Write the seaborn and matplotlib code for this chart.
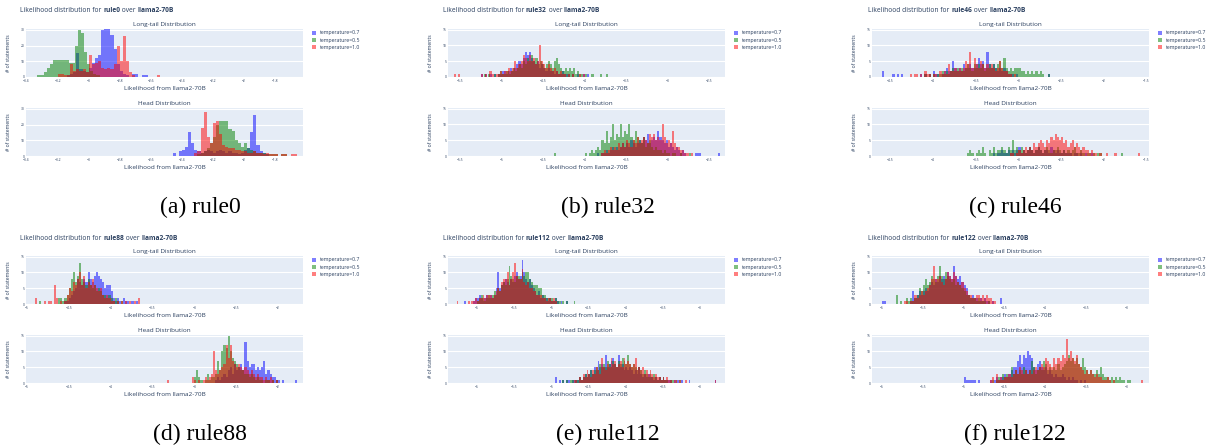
import numpy as np
import pandas as pd
import matplotlib
matplotlib.use("Agg")
import matplotlib.pyplot as plt
from matplotlib import ticker
import seaborn as sns

sns.set_theme(style="white")
plt.rcParams['font.family'] = ['Open Sans', 'DejaVu Sans']

temps = ["temperature=0.7", "temperature=0.5", "temperature=1.0"]
colors = ["blue", "green", "red"]
rules = ["rule0", "rule32", "rule46", "rule88", "rule112", "rule122"]
captions = ["(a) rule0", "(b) rule32", "(c) rule46", "(d) rule88", "(e) rule112", "(f) rule122"]

# ---- rule0 (bin width 0.02), order: t=0.7, t=0.5, t=1.0
r0_w = 0.02
r0_tail_start = [-3.14, -3.33, -3.20]
r0_tail_b = [1, 2, 3, 15, 5, 4, 3, 6, 9, 12, 14, 30, 32, 33, 27, 18, 8, 4, 2, 1, 0, 2, 2, 0, 1, 1]
r0_tail_g = [1, 1, 3, 6, 8, 11, 11, 11, 11, 11, 9, 9, 20, 30, 28, 16, 8, 4, 2, 1]
r0_tail_r = [2, 2, 1, 1, 8, 4, 5, 4, 5, 3, 14, 8, 9, 10, 6, 5, 6, 5, 8, 20, 10, 26, 10, 3, 1,
             0, 0, 0, 0, 0, 0, 0, 1]
r0_head_start = [-2.46, -2.30, -2.32]
r0_head_b = [2, 0, 3, 4, 6, 15, 8, 4, 3, 2, 3, 4, 3, 2, 3, 4, 3, 2, 3, 2, 2, 1, 2, 4, 5, 15, 26, 7, 3, 2, 1]
r0_head_g = [1, 2, 3, 5, 8, 12, 20, 22, 22, 22, 17, 16, 10, 8, 6, 8, 5, 4, 3, 2, 2, 2, 1, 1, 1, 1, 0, 1, 1]
r0_head_r = [2, 3, 18, 28, 12, 8, 21, 22, 14, 7, 6, 5, 5, 4, 4, 3, 3, 2, 2, 3, 2, 2, 1, 2, 1, 1, 1, 0, 1, 1, 0, 1, 1]

# ---- rule32 (bin width 0.025)
r32_w = 0.025
r32_tail_start = [-5.25, -5.22, -5.575]
r32_tail_b = [1, 0, 1, 0, 1, 0, 1, 0, 1, 1, 2, 2, 1, 2, 3, 2, 3, 4, 5, 4, 6, 8, 7, 8, 6, 5, 4, 5, 3, 4,
              3, 2, 3, 2, 2, 1, 2, 1, 1, 2, 1, 1, 1, 0, 1, 0, 1, 0, 0, 1, 0, 1]
r32_tail_g = [1, 0, 1, 0, 0, 1, 0, 1, 2, 1, 1, 2, 1, 2, 3, 2, 3, 4, 3, 5, 4, 6, 5, 7, 5, 6, 4, 5, 4, 3,
              4, 5, 4, 3, 5, 6, 4, 3, 2, 3, 2, 3, 2, 3, 1, 2, 1, 1, 0, 1, 0, 0, 1, 0, 0, 0, 1, 0, 0, 1]
r32_tail_r = [1, 0, 1, 0, 0, 0, 0, 0, 0, 0, 0, 0, 0, 1, 0, 1, 0, 2, 1, 0, 1, 1, 2, 1, 2, 2, 3, 2, 3, 5,
              3, 4, 5, 7, 6, 5, 7, 5, 6, 4, 5, 10, 5, 4, 3, 4, 3, 2, 3, 2, 1, 2, 1, 1, 0, 1, 0, 1, 0, 0,
              1, 0, 1]
r32_head_start = [-3.85, -4.375, -3.80]
r32_head_b = [1, 0, 1, 1, 2, 1, 2, 3, 2, 3, 2, 3, 4, 3, 4, 3, 5, 4, 3, 4, 5, 4, 6, 5, 7, 4, 5, 6, 5, 8,
              6, 5, 4, 5, 3, 4, 3, 2, 3, 2, 1, 2, 1, 0, 0, 0, 0, 1, 1, 1, 0, 0, 0, 0, 0, 0, 0, 0, 1]
r32_head_g = [1, 0, 0, 0, 0, 0, 0, 0, 0, 0, 0, 0, 0, 0, 0, 1, 0, 1, 2, 1, 2, 3, 2, 5, 4, 8, 4, 6, 10, 5,
              7, 6, 10, 6, 8, 7, 10, 6, 5, 8, 6, 5, 4, 6, 3, 4, 5, 3, 2, 3, 2, 2, 1, 2, 1, 1, 0, 1, 1, 0,
              0, 1, 0, 0, 0, 1]
r32_head_r = [1, 2, 1, 2, 3, 2, 3, 2, 4, 3, 4, 3, 5, 4, 3, 5, 4, 6, 4, 5, 6, 5, 4, 7, 6, 7, 5, 6, 5, 10,
              6, 4, 5, 4, 8, 4, 3, 3, 2, 2, 1, 1, 0, 1]

# ---- rule46
r46_w = 0.025
r46_tail_start = [-4.60, -4.10, -4.275]
r46_tail_b = [2, 0, 0, 0, 0, 1, 0, 1, 0, 1, 0, 0, 0, 0, 0, 0, 0, 0, 1, 0, 1, 0, 1, 0, 2, 1, 1, 0, 1, 2,
              3, 2, 2, 5, 3, 2, 3, 2, 4, 3, 3, 4, 3, 3, 4, 6, 4, 5, 3, 8, 4, 3, 4, 3, 2, 3, 2, 3, 2, 1,
              1, 1, 0, 1, 0, 0, 0, 0, 0, 0, 0, 0, 0, 0, 0, 0, 0, 0, 1]
r46_tail_g = [1, 0, 1, 0, 1, 0, 1, 1, 2, 1, 2, 1, 2, 3, 2, 3, 2, 3, 2, 3, 4, 3, 2, 4, 3, 4, 3, 4, 2, 3,
              4, 3, 4, 3, 4, 5, 3, 6, 3, 2, 3, 2, 3, 3, 3, 2, 2, 1, 2, 1, 2, 1, 2, 1, 2, 1, 0, 0, 1]
r46_tail_r = [1, 0, 1, 1, 0, 1, 0, 2, 1, 1, 0, 1, 1, 0, 2, 1, 2, 1, 4, 2, 2, 3, 2, 3, 2, 3, 5, 4, 8, 3,
              6, 4, 3, 5, 4, 3, 4, 3, 4, 3, 2, 3, 5, 3, 2, 2, 1, 1, 0, 1]
r46_head_start = [-3.30, -3.60, -3.10]
r46_head_b = [1, 0, 1, 1, 2, 1, 1, 2, 1, 2, 1, 2, 3, 1, 2, 1, 2, 3, 2, 1, 2, 3, 2, 1, 2, 2, 1, 3, 2, 1,
              2, 1, 1, 2, 1, 1, 1, 0, 1, 1, 0, 1, 0, 1, 0, 0, 1]
r46_head_g = [1, 2, 1, 0, 1, 2, 1, 3, 1, 0, 2, 1, 3, 1, 2, 2, 3, 2, 1, 3, 2, 5, 2, 3, 2, 3, 2, 1, 2, 3,
              2, 1, 2, 3, 2, 1, 2, 3, 2, 1, 2, 2, 3, 2, 1, 2, 1, 2, 1, 2, 3, 1, 1, 2, 1, 0, 1, 1, 0, 1,
              0, 1, 1, 0, 0, 0, 0, 0, 0, 0, 0, 0, 1]
r46_head_r = [1, 1, 0, 1, 2, 1, 2, 3, 2, 3, 2, 4, 3, 4, 5, 4, 3, 5, 4, 6, 5, 7, 6, 5, 6, 4, 5, 3, 4, 5,
              3, 4, 3, 2, 3, 2, 2, 1, 2, 1, 1, 0, 1, 0, 0, 1, 0, 0, 0, 1, 0, 0, 0, 0, 0, 0, 0, 0, 0, 0,
              1]

# ---- rule88
r88_w = 0.025
r88_tail_start = [-4.55, -4.85, -4.90]
r88_tail_b = [1, 1, 2, 3, 4, 5, 8, 7, 6, 8, 7, 10, 8, 7, 9, 10, 9, 8, 7, 5, 6, 6, 4, 2, 1, 2, 1, 0, 2, 1,
              1, 0, 1, 0, 1]
r88_tail_g = [1, 0, 0, 0, 0, 0, 0, 0, 0, 2, 2, 1, 2, 3, 5, 8, 10, 7, 9, 13, 8, 7, 6, 8, 6, 5, 6, 4, 5, 4,
              3, 3, 2, 3, 2, 1, 2, 1, 0, 1]
r88_tail_r = [2, 0, 0, 0, 1, 0, 1, 1, 0, 6, 2, 0, 1, 0, 1, 3, 5, 4, 7, 6, 8, 10, 6, 9, 5, 7, 6, 8, 6, 5,
              4, 5, 3, 2, 3, 2, 1, 1, 0, 1, 0, 1, 0, 1, 0, 1, 0, 1, 0, 2]
r88_head_start = [-2.75, -3.00, -3.325]
r88_head_b = [1, 2, 1, 2, 3, 2, 4, 5, 3, 6, 4, 5, 6, 4, 13, 7, 5, 6, 6, 4, 5, 4, 5, 7, 3, 4, 3, 2, 2, 1,
              1, 0, 1, 0, 0, 0, 0, 0, 1]
r88_head_g = [2, 4, 2, 1, 0, 1, 3, 1, 2, 2, 3, 7, 4, 10, 12, 11, 15, 10, 8, 7, 6, 5, 4, 4, 3, 3, 2, 3, 2, 1,
              2, 1, 1, 0, 1, 1, 0, 1, 0, 1]
r88_head_r = [1, 0, 0, 0, 0, 0, 0, 0, 0, 0, 0, 0, 2, 1, 0, 1, 0, 1, 2, 1, 2, 3, 10, 4, 3, 4, 5, 6, 12, 8,
              12, 7, 6, 5, 6, 5, 4, 5, 4, 3, 4, 3, 2, 3, 2, 2, 1, 2, 1, 2, 1, 0, 1]

# ---- rule112
r112_w = 0.025
r112_tail_start = [-6.175, -6.00, -6.275]
r112_tail_b = [1, 0, 0, 0, 0, 1, 2, 2, 3, 2, 1, 2, 3, 2, 3, 2, 3, 5, 10, 5, 6, 7, 8, 7, 6, 8, 7, 9, 10, 8,
               9, 14, 10, 8, 7, 8, 6, 5, 4, 3, 4, 2, 3, 2, 2, 1, 2, 1, 1, 2, 1, 0, 1, 0, 0, 1]
r112_tail_g = [1, 2, 3, 2, 1, 2, 3, 2, 3, 4, 3, 5, 4, 6, 7, 6, 8, 12, 9, 8, 7, 9, 9, 8, 10, 9, 10, 10, 8, 7,
               6, 6, 6, 5, 5, 3, 3, 2, 2, 2, 2, 1, 2, 1, 1, 0, 1, 0, 1, 0, 0, 0, 1]
r112_tail_r = [1, 0, 0, 0, 0, 0, 1, 0, 1, 1, 2, 1, 2, 2, 3, 2, 3, 3, 3, 2, 3, 4, 5, 4, 7, 8, 8, 10, 6, 8,
               10, 13, 9, 8, 8, 11, 7, 6, 7, 5, 5, 4, 4, 3, 3, 3, 2, 2, 1, 2, 2, 1, 2, 1]
r112_head_start = [-4.95, -4.85, -4.70]
r112_head_b = [2, 0, 1, 0, 1, 0, 1, 1, 0, 1, 1, 1, 1, 2, 1, 2, 3, 2, 3, 4, 3, 5, 4, 7, 5, 6, 5, 9, 5, 6,
               7, 8, 6, 5, 9, 5, 6, 4, 5, 4, 5, 4, 3, 4, 3, 5, 3, 2, 3, 2, 3, 2, 2, 1, 2, 1, 2, 1, 2, 1,
               1, 1, 1, 0, 1, 0, 1, 0, 1, 0, 0, 0, 1, 0, 0, 0, 0, 0, 0, 0, 0, 0, 0, 0, 0, 0, 1]
r112_head_g = [1, 0, 1, 0, 1, 1, 0, 1, 1, 2, 1, 2, 3, 2, 3, 4, 3, 4, 5, 4, 6, 5, 6, 5, 7, 6, 5, 7, 6, 5,
               7, 6, 8, 7, 6, 9, 6, 5, 6, 5, 4, 5, 4, 3, 4, 3, 2, 3, 2, 3, 2, 1, 2, 1, 2, 1, 1, 0, 1, 1,
               0, 1, 0, 1]
r112_head_r = [1, 1, 0, 2, 1, 3, 2, 4, 3, 2, 4, 3, 5, 4, 3, 8, 5, 4, 6, 5, 8, 6, 7, 5, 6, 7, 5, 8, 6, 7,
               6, 5, 6, 8, 4, 5, 4, 5, 3, 4, 3, 4, 3, 2, 3, 2, 2, 1, 2, 1, 2, 1, 1, 0, 1, 1, 0, 1, 0, 0,
               1, 0, 0, 0, 0, 0, 0, 0, 0, 0, 0, 0, 0, 0, 0, 0, 1]

# ---- rule122
r122_w = 0.025
r122_tail_start = [-6.00, -5.825, -5.725]
r122_tail_b = [1, 1, 0, 0, 0, 0, 0, 0, 0, 0, 0, 0, 0, 0, 1, 4, 2, 3, 4, 3, 4, 5, 4, 6, 7, 6, 8, 7, 9, 8,
               9, 8, 10, 9, 8, 12, 9, 8, 9, 7, 6, 5, 3, 2, 3, 2, 2, 1, 2, 1, 2, 1, 1, 0, 1, 0, 0, 0, 2]
r122_tail_g = [3, 0, 1, 0, 0, 2, 1, 2, 1, 2, 3, 5, 4, 6, 8, 6, 7, 9, 8, 7, 9, 12, 9, 8, 10, 9, 8, 7, 8, 6,
               7, 6, 5, 4, 3, 3, 2, 2, 2, 1, 2, 1, 1, 1, 0, 1]
r122_tail_r = [1, 1, 0, 1, 1, 3, 2, 3, 4, 3, 4, 5, 6, 8, 12, 8, 8, 9, 7, 6, 8, 10, 9, 8, 10, 9, 7, 6, 7, 5,
               4, 3, 3, 2, 2, 3, 3, 2, 3, 2, 3, 2, 2, 1, 1]
r122_head_start = [-5.00, -4.65, -4.675]
r122_head_b = [2, 1, 1, 1, 1, 1, 0, 1, 0, 0, 0, 0, 0, 1, 0, 1, 2, 1, 2, 2, 3, 2, 3, 4, 5, 5, 7, 9, 6, 9,
               8, 10, 9, 8, 5, 4, 6, 7, 5, 4, 5, 3, 4, 3, 2, 3, 2, 2, 3, 2, 1, 2, 1, 2, 1, 1, 0, 1, 0, 1]
r122_head_g = [1, 0, 1, 2, 1, 3, 2, 3, 2, 5, 3, 4, 3, 4, 3, 5, 4, 3, 4, 7, 5, 3, 4, 5, 4, 7, 6, 4, 5, 4,
               5, 4, 6, 4, 5, 6, 7, 9, 7, 8, 6, 8, 6, 5, 8, 5, 4, 3, 4, 3, 3, 4, 3, 5, 3, 2, 2, 1, 2, 1,
               2, 1, 2, 1, 1, 0, 1, 1]
r122_head_r = [1, 2, 0, 3, 1, 2, 1, 2, 2, 3, 2, 3, 4, 3, 5, 4, 3, 4, 3, 4, 3, 4, 5, 4, 5, 6, 5, 8, 7, 6,
               5, 8, 6, 8, 7, 9, 8, 14, 8, 10, 8, 7, 9, 6, 5, 4, 3, 4, 3, 4, 3, 2, 3, 2, 2, 1, 1, 2, 1, 0,
               1, 0, 0, 0, 0, 0, 0, 0, 0, 0, 0, 0, 0, 0, 1]

# axis settings per rule
xlims = [(-3.404, -1.62), (-5.65, -2.31), (-4.715, -1.47), (-5.01, -1.70), (-6.39, -2.66), (-6.12, -2.73)]
xticks = [[-3.4, -3.2, -3, -2.8, -2.6, -2.4, -2.2, -2, -1.8],
          [-5.5, -5, -4.5, -4, -3.5, -3, -2.5],
          [-4.5, -4, -3.5, -3, -2.5, -2, -1.5],
          [-5, -4.5, -4, -3.5, -3, -2.5, -2],
          [-6, -5.5, -5, -4.5, -4, -3.5, -3],
          [-6, -5.5, -5, -4.5, -4, -3.5, -3]]
ylims = [30.5, 15.2, 15.2, 15.2, 15.2, 15.2]
yticks = [[0, 10, 20, 30]] + [[0, 5, 10, 15]] * 5

panels = [
    (r0_w, r0_tail_start, [r0_tail_b, r0_tail_g, r0_tail_r], r0_head_start, [r0_head_b, r0_head_g, r0_head_r]),
    (r32_w, r32_tail_start, [r32_tail_b, r32_tail_g, r32_tail_r], r32_head_start, [r32_head_b, r32_head_g, r32_head_r]),
    (r46_w, r46_tail_start, [r46_tail_b, r46_tail_g, r46_tail_r], r46_head_start, [r46_head_b, r46_head_g, r46_head_r]),
    (r88_w, r88_tail_start, [r88_tail_b, r88_tail_g, r88_tail_r], r88_head_start, [r88_head_b, r88_head_g, r88_head_r]),
    (r112_w, r112_tail_start, [r112_tail_b, r112_tail_g, r112_tail_r], r112_head_start, [r112_head_b, r112_head_g, r112_head_r]),
    (r122_w, r122_tail_start, [r122_tail_b, r122_tail_g, r122_tail_r], r122_head_start, [r122_head_b, r122_head_g, r122_head_r]),
]

BG = "#E5ECF6"
TXT = "#2a3f5f"
W, H = 1208, 448


def fmt(v, pos):
    return f"{v:g}".replace("-", "\u2212")


def draw(ax, starts, width, series):
    for s, c, counts, lab in zip(starts, colors, series, temps):
        n = len(counts)
        edges = [s + width * k for k in range(n + 1)]
        df = pd.DataFrame({"x": [e + width / 2 for e in edges[:-1]], "n": counts})
        sns.histplot(data=df, x="x", weights="n", bins=edges, color=c,
                     alpha=0.5, linewidth=0, ax=ax, label=lab)


def style(ax, i, subtitle):
    ax.set_facecolor(BG)
    for sp in ax.spines.values():
        sp.set_visible(False)
    ax.set_xlim(*xlims[i])
    ax.set_ylim(0, ylims[i])
    ax.set_xticks(xticks[i])
    ax.set_yticks(yticks[i])
    ax.xaxis.set_major_formatter(ticker.FuncFormatter(fmt))
    ax.grid(axis="y", color="white", linewidth=0.8)
    ax.grid(axis="x", visible=False)
    ax.set_axisbelow(True)
    ax.tick_params(length=0, pad=1.2, labelsize=2.4, labelcolor=TXT)
    ax.set_xlabel("Likelihood from llama2-70B", fontsize=4.6, color=TXT)
    ax.xaxis.set_label_coords(0.5, -0.23)
    ax.xaxis.label.set_va("center")
    ax.set_ylabel("# of statements", fontsize=3.7, color=TXT)
    ax.yaxis.set_label_coords(-0.054, 0.5)
    ax.text(0.5, 1.085, subtitle, transform=ax.transAxes, ha="center", va="center",
            fontsize=4.6, color=TXT)


fig = plt.figure(figsize=(W / 100, H / 100), dpi=100)

ax_left = [26, 448, 872]
title_x = [20, 443, 868]
cap_x = [200, 608, 1015]

for i, (w, t_start, t_series, h_start, h_series) in enumerate(panels):
    col, row = i % 3, i // 3
    dy = 227 * row
    ax_t = fig.add_axes([ax_left[col] / W, 1 - (77 + dy) / H, 277 / W, 48 / H])
    ax_h = fig.add_axes([ax_left[col] / W, 1 - (156 + dy) / H, 277 / W, 48 / H])
    draw(ax_t, t_start, w, t_series)
    draw(ax_h, h_start, w, h_series)
    style(ax_t, i, "Long-tail Distribution")
    style(ax_h, i, "Head Distribution")
    ax_t.legend(loc="upper left", bbox_to_anchor=(1.033, 0.97), frameon=False, fontsize=3.7,
                handlelength=0.75, handleheight=0.75, handletextpad=0.7, labelspacing=0.45,
                borderaxespad=0, borderpad=0, labelcolor=TXT)

    # panel title with bold parts
    t1 = fig.text(title_x[col] / W, 1 - (11 + dy) / H, "Likelihood distribution for ",
                  fontsize=4.8, color=TXT, va="center")
    a1 = ax_t.annotate(rules[i], xy=(1, 0.5), xycoords=t1, va="center", ha="left",
                       fontsize=4.8, color=TXT, fontweight="bold", annotation_clip=False)
    a2 = ax_t.annotate(" over ", xy=(1, 0.5), xycoords=a1, va="center", ha="left",
                       fontsize=4.8, color=TXT, annotation_clip=False)
    ax_t.annotate("llama2-70B", xy=(1, 0.5), xycoords=a2, va="center", ha="left",
                  fontsize=4.8, color=TXT, fontweight="bold", annotation_clip=False)

    fig.text(cap_x[col] / W, 1 - (207 + dy) / H, captions[i], fontsize=17,
             family=["Liberation Serif", "DejaVu Serif"], color="black", ha="center", va="center")

fig.savefig("out.png", dpi=100)
